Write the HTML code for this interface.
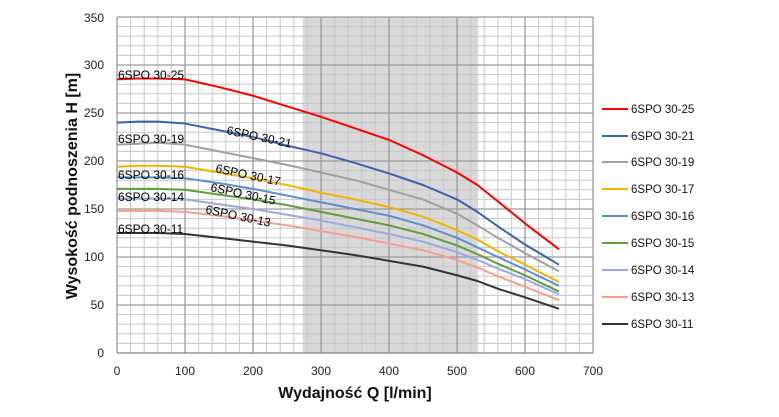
<!DOCTYPE html>
<html><head><meta charset="utf-8"><style>
html,body{margin:0;padding:0;background:#fff;}
svg{display:block;font-family:"Liberation Sans",sans-serif;}
</style></head><body>
<svg width="779" height="417" viewBox="0 0 779 417" xmlns="http://www.w3.org/2000/svg">
<rect width="779" height="417" fill="#fff"/>
<g transform="translate(117,353) scale(0.68,-0.96)">
<rect x="273" y="0" width="258" height="350" fill="#d9d9d9"/>
<g stroke="#c8c8c8" stroke-width="1" fill="none">
<path vector-effect="non-scaling-stroke" d="M20 0V350M40 0V350M60 0V350M80 0V350M120 0V350M140 0V350M160 0V350M180 0V350M220 0V350M240 0V350M260 0V350M280 0V350M320 0V350M340 0V350M360 0V350M380 0V350M420 0V350M440 0V350M460 0V350M480 0V350M520 0V350M540 0V350M560 0V350M580 0V350M620 0V350M640 0V350M660 0V350M680 0V350
M0 10H700M0 20H700M0 30H700M0 40H700M0 60H700M0 70H700M0 80H700M0 90H700M0 110H700M0 120H700M0 130H700M0 140H700M0 160H700M0 170H700M0 180H700M0 190H700M0 210H700M0 220H700M0 230H700M0 240H700M0 260H700M0 270H700M0 280H700M0 290H700M0 310H700M0 320H700M0 330H700M0 340H700"/>
</g>
<g stroke="#9a9a9a" fill="none">
<path vector-effect="non-scaling-stroke" stroke-width="1.3" d="M100 0V350M200 0V350M300 0V350M400 0V350M500 0V350M600 0V350M700 0V350M0 50H700M0 100H700M0 150H700M0 200H700M0 250H700M0 300H700M0 350H700M0 0V350"/>
</g>
<path vector-effect="non-scaling-stroke" stroke="#808080" stroke-width="1.3" d="M0 0H700"/>
<g fill="none" stroke-width="2" stroke-linejoin="round">
<polyline vector-effect="non-scaling-stroke" stroke="#ff0000" points="0,285 30,286 60,286 100,285 150,277 200,268 250,257 300,246 350,234 400,222 450,206 500,188 530,175 560,158 600,135 650,108"/>
<polyline vector-effect="non-scaling-stroke" stroke="#3d62ad" points="0,240 30,241 60,241 100,239 150,232 200,225 250,216 300,208 350,198 400,187 450,175 500,160 530,147 560,132 600,113 650,92"/>
<polyline vector-effect="non-scaling-stroke" stroke="#a0a0a0" points="0,217 30,218 60,219 100,217 150,210 200,203 250,196 300,188 350,180 400,170 450,160 500,145 530,133 560,120 600,104 650,85"/>
<polyline vector-effect="non-scaling-stroke" stroke="#f0b400" points="0,194 30,195 60,195 100,194 150,188 200,182 250,175 300,167 350,160 400,152 450,142 500,128 530,118 560,106 600,92 650,74"/>
<polyline vector-effect="non-scaling-stroke" stroke="#5b8fcf" points="0,183 60,183 100,182 150,177 200,171 250,164 300,157 350,150 400,143 450,133 500,120 530,110 560,100 600,87 650,70"/>
<polyline vector-effect="non-scaling-stroke" stroke="#5f9e3c" points="0,171 60,171 100,170 150,165 200,160 250,154 300,147 350,140 400,133 450,124 500,112 530,103 560,93 600,81 650,64"/>
<polyline vector-effect="non-scaling-stroke" stroke="#9aaadf" points="0,161 60,161 100,160 150,155 200,150 250,144 300,138 350,131 400,124 450,116 500,105 530,97 560,88 600,77 650,61"/>
<polyline vector-effect="non-scaling-stroke" stroke="#f2a08c" points="0,148 60,148 100,147 150,143 200,138 250,133 300,127 350,121 400,114 450,107 500,97 530,89 560,80 600,69 650,55"/>
<polyline vector-effect="non-scaling-stroke" stroke="#333333" points="0,125 60,125 100,124 150,120 200,116 250,112 300,107 350,102 400,96 450,90 500,81 530,75 560,67 600,58 650,46"/>
</g>
</g>
<g font-size="12" fill="#222" text-anchor="end">
<text x="104" y="357">0</text><text x="104" y="309">50</text><text x="104" y="261">100</text><text x="104" y="213">150</text><text x="104" y="165">200</text><text x="104" y="117">250</text><text x="104" y="69">300</text><text x="104" y="22">350</text>
</g>
<g font-size="12" fill="#222" text-anchor="middle">
<text x="117" y="375">0</text><text x="185" y="375">100</text><text x="253" y="375">200</text><text x="321" y="375">300</text><text x="389" y="375">400</text><text x="457" y="375">500</text><text x="525" y="375">600</text><text x="593" y="375">700</text>
</g>
<text x="355" y="398" font-size="16" font-weight="bold" text-anchor="middle" fill="#111">Wydajność Q [l/min]</text>
<text transform="translate(77,186) rotate(-90)" font-size="16" font-weight="bold" text-anchor="middle" fill="#111">Wysokość podnoszenia H [m]</text>
<g font-size="12" fill="#000">
<text x="118" y="79">6SPO 30-25</text>
<text x="118" y="143">6SPO 30-19</text>
<text x="118" y="179">6SPO 30-16</text>
<text x="118" y="201">6SPO 30-14</text>
<text x="118" y="233">6SPO 30-11</text>
<text transform="translate(226,134) rotate(12)">6SPO 30-21</text>
<text transform="translate(215,172) rotate(12)">6SPO 30-17</text>
<text transform="translate(210,191) rotate(12)">6SPO 30-15</text>
<text transform="translate(205,213) rotate(12)">6SPO 30-13</text>
</g>
<g stroke-width="2">
<line x1="602" x2="628" y1="109" y2="109" stroke="#ff0000"/>
<line x1="602" x2="628" y1="136" y2="136" stroke="#3d62ad"/>
<line x1="602" x2="628" y1="162" y2="162" stroke="#a0a0a0"/>
<line x1="602" x2="628" y1="189" y2="189" stroke="#f0b400"/>
<line x1="602" x2="628" y1="216" y2="216" stroke="#5b8fcf"/>
<line x1="602" x2="628" y1="243" y2="243" stroke="#5f9e3c"/>
<line x1="602" x2="628" y1="270" y2="270" stroke="#9aaadf"/>
<line x1="602" x2="628" y1="297" y2="297" stroke="#f2a08c"/>
<line x1="602" x2="628" y1="324" y2="324" stroke="#333333"/>
</g>
<g font-size="11.5" fill="#111">
<text x="631" y="113">6SPO 30-25</text>
<text x="631" y="140">6SPO 30-21</text>
<text x="631" y="166">6SPO 30-19</text>
<text x="631" y="193">6SPO 30-17</text>
<text x="631" y="220">6SPO 30-16</text>
<text x="631" y="247">6SPO 30-15</text>
<text x="631" y="274">6SPO 30-14</text>
<text x="631" y="301">6SPO 30-13</text>
<text x="631" y="328">6SPO 30-11</text>
</g>
</svg>
</body></html>
